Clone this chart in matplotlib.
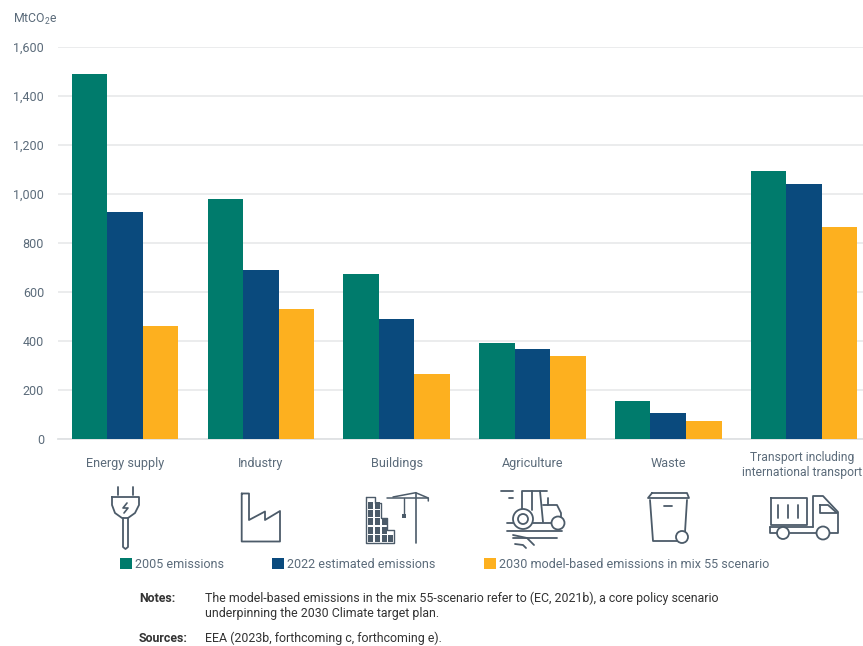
import matplotlib
matplotlib.use("Agg")
import matplotlib.pyplot as plt
from matplotlib.patches import Circle, Rectangle
from matplotlib.transforms import ScaledTranslation

W, H = 863, 646

categories = ["Energy supply", "Industry", "Buildings", "Agriculture", "Waste",
              "Transport including\ninternational transport"]
emissions_2005 = [1490, 980, 672, 390, 155, 1095]
emissions_2022 = [925, 690, 488, 368, 105, 1040]
emissions_2030 = [460, 532, 265, 340, 72, 865]
series_labels = ["2005 emissions", "2022 estimated emissions",
                 "2030 model-based emissions in mix 55 scenario"]
y_ticks = [0, 200, 400, 600, 800, 1000, 1200, 1400, 1600]

GREEN = "#007b6c"
BLUE = "#0a4a7d"
ORANGE = "#fdb01f"
TEXT = "#5b6b7a"
ICON = "#4c5b69"

plt.rcParams["font.family"] = ["Roboto", "DejaVu Sans"]
plt.rcParams["mathtext.default"] = "regular"

fig = plt.figure(figsize=(W / 100, H / 100), dpi=100, facecolor="white")
ax = fig.add_axes([58 / W, 1 - 439 / H, (W - 58) / W, 392 / H])

width = 0.2615
x = list(range(len(categories)))
b1 = ax.bar([i - width for i in x], emissions_2005, width, color=GREEN, zorder=3)
b2 = ax.bar(x, emissions_2022, width, color=BLUE, zorder=3)
b3 = ax.bar([i + width for i in x], emissions_2030, width, color=ORANGE, zorder=3)

ax.set_xlim(-0.493, 5.434)
ax.set_ylim(0, 1600)
ax.set_yticks(y_ticks, [f"{v:,}" for v in y_ticks])
ax.set_xticks(x, categories, va="center", linespacing=1.25)
ax.tick_params(axis="y", length=0, pad=10, labelsize=9, labelcolor=TEXT)
ax.tick_params(axis="x", length=0, pad=17.3, labelsize=9.1, labelcolor=TEXT)
ax.grid(axis="y", color="#e9ebec", lw=1.3, zorder=0)
for s in ax.spines.values():
    s.set_visible(False)
ax.spines["bottom"].set_visible(True)
ax.spines["bottom"].set_color("#dfe2e4")
ax.spines["bottom"].set_linewidth(1.3)
for lab in ax.get_yticklabels() + ax.get_xticklabels():
    lab.set_clip_on(False)

# the long label sits a little left and lower so it stays inside the figure
last = ax.get_xticklabels()[-1]
last.set_fontsize(8.7)
last.set_transform(last.get_transform() + ScaledTranslation(-0.02, -0.02, fig.dpi_scale_trans))

fig.text(13 / W, 1 - 19 / H, "MtCO$_2$e", fontsize=8.8, color=TEXT, va="center")

fig.legend([b1, b2, b3], series_labels, loc="upper left",
           bbox_to_anchor=(120 / W, 1 - 558 / H), ncol=3, frameon=False,
           fontsize=9.0, labelcolor=TEXT, borderpad=0, borderaxespad=0,
           handlelength=0.95, handleheight=0.95, handletextpad=0.25,
           columnspacing=3.85)

fig.text(139 / W, 1 - 598 / H, "Notes:", fontsize=8.95, color="#333333",
         fontweight="bold", va="center")
fig.text(205 / W, 1 - 598 / H,
         "The model-based emissions in the mix 55-scenario refer to (EC, 2021b), a core policy scenario",
         fontsize=8.95, color="#333333", va="center")
fig.text(205 / W, 1 - 613 / H, "underpinning the 2030 Climate target plan.",
         fontsize=8.95, color="#333333", va="center")
fig.text(139 / W, 1 - 638 / H, "Sources:", fontsize=8.95, color="#333333",
         fontweight="bold", va="center")
fig.text(205 / W, 1 - 638 / H, "EEA (2023b, forthcoming c, forthcoming e).",
         fontsize=8.95, color="#333333", va="center")

# icons are drawn in pixel coordinates on a see-through overlay
ov = fig.add_axes([0, 0, 1, 1], facecolor="none")
ov.set_xlim(0, W)
ov.set_ylim(H, 0)
ov.axis("off")


def line(pts, lw=1.3):
    ov.plot([p[0] for p in pts], [p[1] for p in pts], color=ICON, lw=lw,
            solid_capstyle="round", solid_joinstyle="round")


def ring(cx, cy, r, lw=1.3):
    ov.add_patch(Circle((cx, cy), r, fc="white", ec=ICON, lw=lw, zorder=4))


# plug
line([(117.5, 487), (117.5, 495)])
line([(132.5, 487), (132.5, 495)])
line([(112, 497), (139, 497), (139, 505), (135, 513), (128, 518), (122, 518), (115, 513), (112, 505), (112, 497)])
line([(123, 518), (123, 547), (125.5, 549), (128, 547), (128, 518)])
line([(127, 503), (123, 508), (128, 508), (124, 513)], lw=1.2)

# factory
line([(241.7, 493.5), (249, 493.5), (249, 520), (265, 511.5), (265, 520), (280, 511),
      (280, 541.5), (241.7, 541.5), (241.7, 493.5)])

# building and crane
line([(366, 497), (375, 497), (375, 503), (381, 503), (381, 518), (387, 518), (387, 530),
      (394, 530), (394, 543), (366, 543), (366, 497)], lw=1.0)
for cx, rows in [(370.7, 5), (377.5, 5), (384.3, 3), (390.5, 1)]:
    for k in range(rows):
        ov.add_patch(Rectangle((cx - 2.5, 535 - k * 8.3), 5, 7, fc=ICON, ec="none"))
line([(415.7, 492.7), (415.7, 543)], lw=1.2)
line([(393, 497), (415.7, 492.7), (428.3, 498), (428.3, 501)], lw=1.1)
line([(386.7, 498), (428.3, 498)], lw=1.1)
line([(403.5, 498), (403.5, 514)], lw=1)
ov.add_patch(Rectangle((401.5, 514), 4, 4, fc=ICON, ec="none"))

# tractor
line([(501, 491), (513, 491)])
line([(509, 498), (513, 498)])
line([(522, 510), (522, 491), (547, 491)])
line([(532, 491), (532, 510)])
line([(540, 491), (543, 522)])
line([(543, 505), (557, 505), (561, 513), (561, 518)])
line([(548, 505), (548, 498)])
line([(507, 523), (513, 523)])
line([(533, 523), (553, 523)])
line([(507, 531), (562, 531)])
line([(513, 538), (557, 538)])
line([(513, 535), (527, 538), (534, 545)])
line([(515, 544), (523, 545), (526, 548)])
ring(523, 519, 10)
ring(523, 519, 5)
ring(558, 523, 6.5)

# bin
line([(652, 493), (687, 493), (689, 498), (648, 498), (652, 493)])
line([(650, 500), (653, 541), (677, 541)])
line([(687, 500), (685, 532)])
line([(664, 506), (672, 506)])
ring(682, 537, 6)

# truck
line([(770.7, 498), (807, 498), (807, 525), (770.7, 525), (770.7, 498)])
line([(778, 505), (778, 518)])
line([(788, 505), (788, 518)])
line([(798, 505), (798, 518)])
line([(813, 527), (813, 496), (823, 496), (838, 512), (838, 533), (830, 533)])
line([(820, 505), (828, 505), (837, 513), (820, 513), (820, 505)])
line([(770, 527), (813, 527)])
line([(770, 527), (770, 533), (777, 533)])
line([(790, 533), (817, 533)])
ring(783, 533, 6)
ring(823, 533, 6.5)

fig.savefig("out.png", dpi=100, facecolor="white")
